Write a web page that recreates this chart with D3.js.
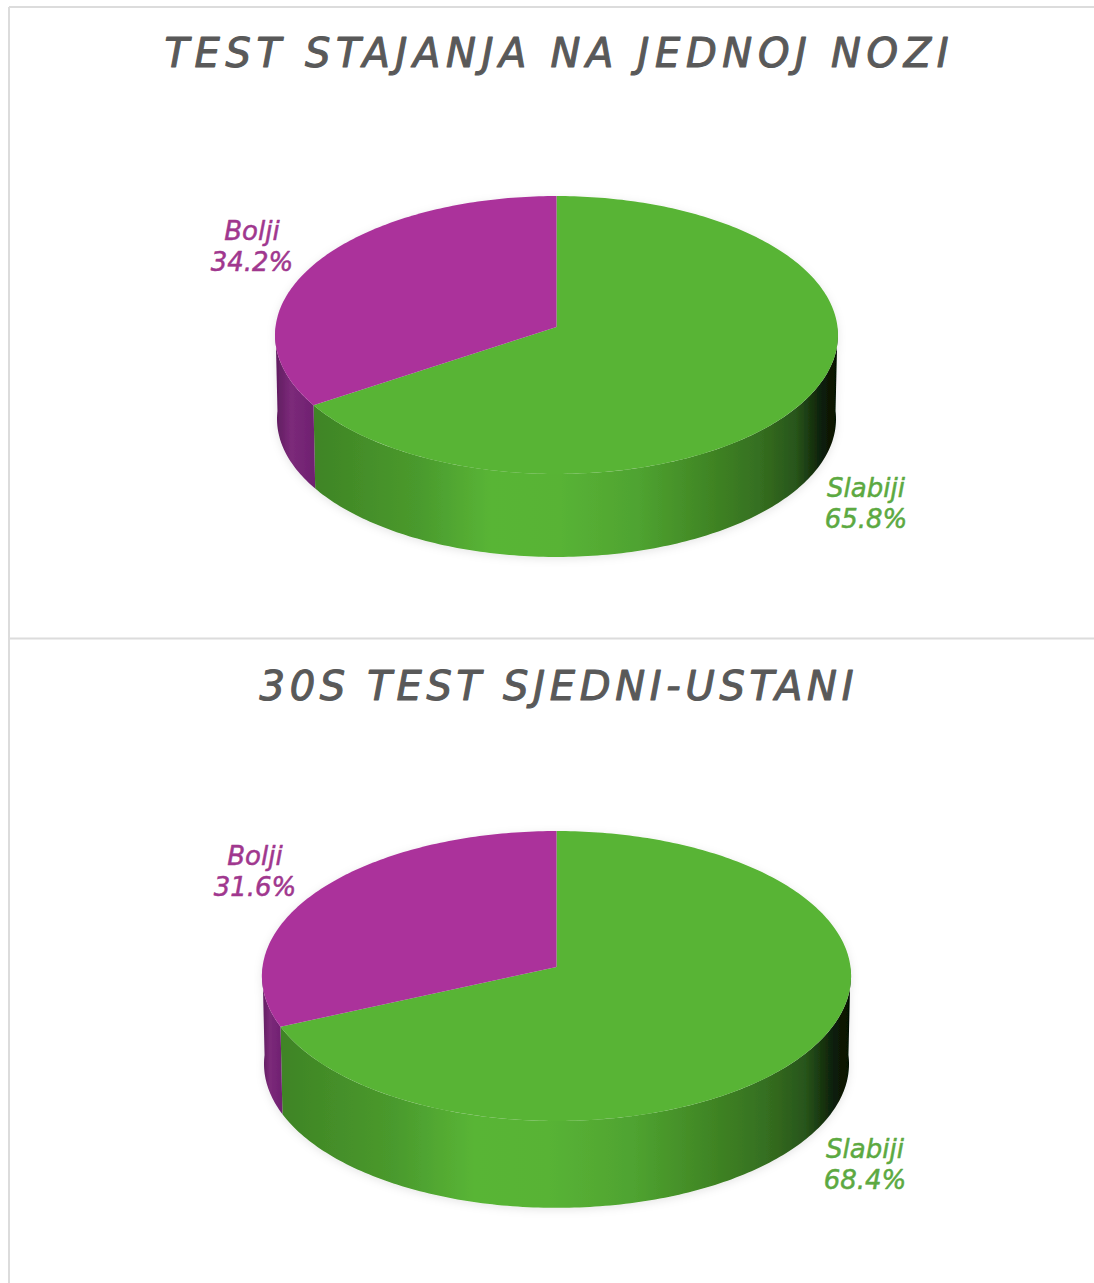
<!DOCTYPE html>
<html>
<head>
<meta charset="utf-8">
<script src="https://cdn.jsdelivr.net/npm/d3@7"></script>
<style>
  html, body { margin: 0; padding: 0; background: #fff; overflow: hidden; }
  svg { display: block; }
  .title { font-family: "DejaVu Sans", sans-serif; font-style: italic; fill: #595959; stroke: #595959; stroke-width: 1.1px; stroke-linejoin: round; text-anchor: middle; }
  .label { font-family: "DejaVu Sans", sans-serif; font-style: italic; font-size: 26px; text-anchor: middle; stroke-width: 0.5px; stroke-linejoin: round; }
</style>
</head>
<body>
<svg id="viz" width="1094" height="1283"></svg>
<script>
const titles = ["TEST STAJANJA NA JEDNOJ NOZI", "30S TEST SJEDNI-USTANI"];
const categories = ["Slabiji", "Bolji"];
const standingValues = [65.8, 34.2];
const sitStandValues = [68.4, 31.6];
const pieColors = ["#58b435", "#ab339b"];
const labelColors = ["#5ca941", "#a0378e"];

const LAYOUT = [
    { cx: 556.5, apexY: 327, rx: 281, ry: 138.5, p: 0.0576, depth: 84, titleY: 67, titleWidth: 784,
      labels: [{ x: 866, y: 497 }, { x: 252, y: 240 }] },
    { cx: 556.5, apexY: 967, rx: 294, ry: 144.4, p: 0.062, depth: 88, titleY: 700, titleWidth: 594,
      labels: [{ x: 865, y: 1158 }, { x: 255, y: 865 }] }
];
const SERIES = [standingValues, sitStandValues];

const svg = d3.select("#viz");

// Frame lines around the two panels
const frame = svg.append("g").attr("stroke", "#dcdcdc").attr("stroke-width", 2);
frame.append("line").attr("x1", 9).attr("x2", 9).attr("y1", 7).attr("y2", 1283);
frame.append("line").attr("x1", 9).attr("x2", 1094).attr("y1", 7).attr("y2", 7);
frame.append("line").attr("x1", 9).attr("x2", 1094).attr("y1", 638.5).attr("y2", 638.5);

const defs = svg.append("defs");

const shadow = defs.append("filter").attr("id", "soft")
    .attr("x", "-5%").attr("y", "-5%").attr("width", "110%").attr("height", "115%");
shadow.append("feDropShadow").attr("dx", 0).attr("dy", 2).attr("stdDeviation", 4)
    .attr("flood-color", "#000").attr("flood-opacity", 0.10);

// Side shading, left to right over the visible wall
const greenSide = defs.append("linearGradient").attr("id", "greenSide");
[[0, "#3f8425"], [0.2, "#4a9a2d"], [0.34, "#59b536"], [0.47, "#58b336"], [0.62, "#4fa330"],
 [0.76, "#3f8424"], [0.85, "#356f20"], [0.92, "#28551a"], [0.97, "#0c1e08"], [1, "#050f03"]]
    .forEach(s => greenSide.append("stop").attr("offset", s[0]).attr("stop-color", s[1]));
const purpleSide = defs.append("linearGradient").attr("id", "purpleSide");
[[0, "#5e1c5e"], [0.4, "#7c2a7a"], [1, "#6e2070"]]
    .forEach(s => purpleSide.append("stop").attr("offset", s[0]).attr("stop-color", s[1]));
const sideFills = ["url(#greenSide)", "url(#purpleSide)"];

const lineGen = d3.line();
const pieGen = d3.pie().sort(null);

function project(L, a, lift, scale) {
    // a is clockwise from the top of the pie, front of the pie is a = PI
    const X = Math.sin(a), Y = -Math.cos(a);
    const w = 1 - L.p * Y;
    return [L.cx + scale * L.rx * X / w, L.apexY + lift + scale * L.ry * Y / w];
}

function arcPoints(L, a0, a1, lift, scale) {
    const n = Math.max(2, Math.ceil(Math.abs(a1 - a0) * 60));
    return d3.range(n + 1).map(i => project(L, a0 + (a1 - a0) * i / n, lift, scale));
}

LAYOUT.forEach((L, idx) => {
    const g = svg.append("g");
    const slices = pieGen(SERIES[idx]);

    g.append("text").attr("class", "title")
        .attr("x", L.cx).attr("y", L.titleY)
        .attr("font-size", 40)
        .attr("textLength", L.titleWidth).attr("lengthAdjust", "spacing")
        .text(titles[idx]);

    const pie = g.append("g").attr("filter", "url(#soft)");
    const walls = pie.append("g");
    const tops = pie.append("g");

    slices.forEach((s, i) => {
        // Only the front half of the wall can be seen
        const a0 = Math.max(s.startAngle, Math.PI / 2);
        const a1 = Math.min(s.endAngle, Math.PI * 1.5);
        if (a1 > a0) {
            const pts = arcPoints(L, a0, a1, 0, 1).concat(arcPoints(L, a1, a0, L.depth, 0.993));
            walls.append("path").attr("d", lineGen(pts) + "Z").attr("fill", sideFills[i]);
        }
        const face = [project(L, 0, 0, 0)].concat(arcPoints(L, s.startAngle, s.endAngle, 0, 1));
        tops.append("path").attr("d", lineGen(face) + "Z").attr("fill", pieColors[i]);

        const lab = g.append("text").attr("class", "label")
            .attr("fill", labelColors[i]).attr("stroke", labelColors[i]);
        lab.append("tspan").attr("x", L.labels[i].x).attr("y", L.labels[i].y).text(categories[i]);
        lab.append("tspan").attr("x", L.labels[i].x).attr("y", L.labels[i].y + 31).text(s.value.toFixed(1) + "%");
    });
});
</script>
</body>
</html>
